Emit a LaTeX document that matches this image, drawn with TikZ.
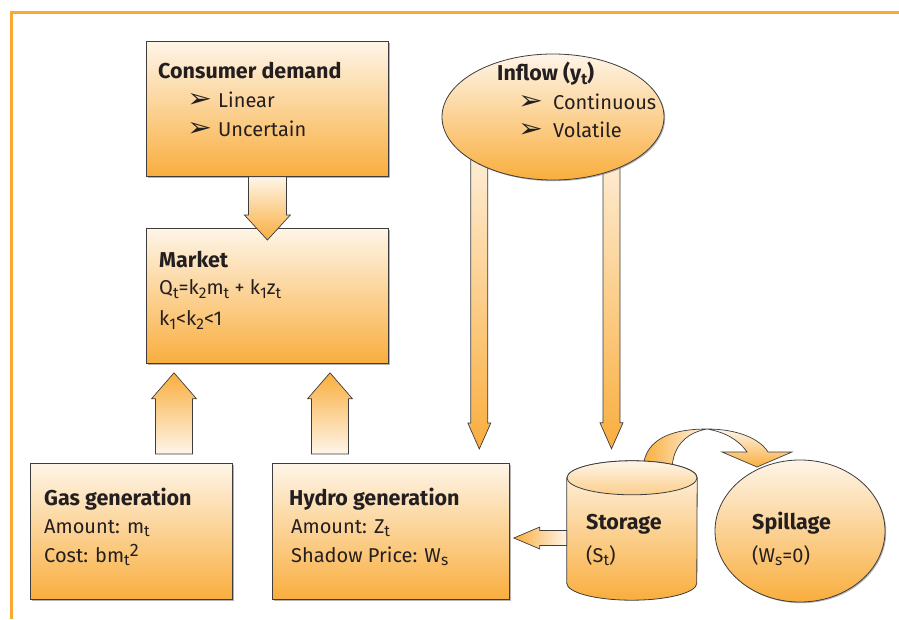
\documentclass[tikz,border=0pt]{standalone}
\usepackage{fontspec}
\setmainfont{Fira Sans}
\newfontfamily\symfont{DejaVu Sans}
\usetikzlibrary{calc,shadows,shapes.geometric,backgrounds,positioning}

\definecolor{lite}{RGB}{254,245,232}
\definecolor{deep}{RGB}{249,174,62}
\definecolor{rim}{RGB}{62,60,60}
\definecolor{framecol}{RGB}{249,168,50}
\definecolor{ink}{RGB}{35,31,32}

\newcommand{\bul}[1]{\makebox[#1][l]{\raisebox{0.5pt}{\resizebox{25pt}{14pt}{\symfont ➢}}}}
\newcommand{\sbs}[1]{\raisebox{-3.5pt}{\fontsize{15.5}{15.5}\selectfont #1}}
\newcommand{\sps}[1]{\raisebox{6pt}{\fontsize{18}{18}\selectfont #1}}
% fat block arrow: tail, tip, half shaft, half head, head length, shading
\newcommand{\fatarrow}[6]{%
  \coordinate (sh) at ($#2!#5!#1$);
  \draw[fat,#6] ($#1!#3!90:#2$) -- ($(sh)!#3!90:#2$) -- ($(sh)!#4!90:#2$) -- #2
    -- ($(sh)!#4!-90:#2$) -- ($(sh)!#3!-90:#2$) -- ($#1!#3!-90:#2$) -- cycle;
}

\begin{document}
\begin{tikzpicture}[x=1pt,y=1pt,
  box/.style={draw=rim, line width=.8pt, top color=lite, bottom color=deep, inner sep=0pt,
    drop shadow={shadow xshift=1.2pt, shadow yshift=-1.2pt, fill=black!50, opacity=.6}},
  fat/.style={draw=rim, line width=.7pt, line join=miter},
  fall/.style={top color=lite, bottom color=deep},
  rise/.style={top color=deep, bottom color=lite},
  leftward/.style={left color=deep, right color=lite},
  lbl/.style={anchor=base west, inner sep=0pt, text=ink, font=\fontsize{20}{24}\selectfont},
  hd/.style={lbl, font=\fontsize{21.5}{25}\selectfont\bfseries}]
\useasboundingbox (0,0) rectangle (899,619);
\draw[line width=3pt, framecol] (11,0) -- (11,606) -- (899,606);

% boxes
\node[box, anchor=north west, minimum width=242pt, minimum height=135pt] (cd) at (146,578) {};
\node[box, anchor=north west, minimum width=242pt, minimum height=135pt] (mk) at (146,391) {};
\node[box, anchor=north west, minimum width=202pt, minimum height=136pt] (gas) at (30,156) {};
\node[box, anchor=north west, minimum width=237pt, minimum height=136pt] (hyd) at (272,156) {};
\node[box, ellipse, minimum width=222pt, minimum height=126pt] (inflow) at (553,502) {};
\node[box, ellipse, minimum width=170pt, minimum height=142pt] (spill) at (800,88) {};
\node[minimum width=130pt, minimum height=105pt, inner sep=0pt] (stor) at (632,88.5) {};

% spill over
\draw[fat, left color=deep, right color=lite] (643,148) .. controls (643,178) and (668,190) .. (707,190)
  .. controls (690,187) and (672,176) .. (672,148) -- cycle;
\draw[fat, top color=lite, bottom color=deep] (707,190) .. controls (738,190) and (760,180) .. (768,167)
  -- (792,167) -- (757,152) -- (722,167) -- (747,167) .. controls (738,180) and (724,187) .. (707,190) -- cycle;

% storage tank
\draw[rim, line width=.8pt, top color=lite, bottom color=deep] (stor.north west) -- (stor.south west)
  arc[start angle=180, end angle=360, x radius=65pt, y radius=17pt] -- (stor.north east)
  arc[start angle=0, end angle=180, x radius=65pt, y radius=17pt] -- cycle;
\draw[rim, line width=.8pt, top color=lite, bottom color=deep!55!lite] (stor.north) ellipse[x radius=65pt, y radius=17pt];

% arrows
\coordinate (a1) at (cd.south);
\coordinate (a2) at ($(mk.north)+(0,-12)$);
\fatarrow{(a1)}{(a2)}{19pt}{23pt}{25pt}{fall}
\coordinate (b2) at ($(mk.south west)+(28,-9)$);
\coordinate (b1) at ($(gas.north -| b2)+(0,9)$);
\fatarrow{(b1)}{(b2)}{18.5pt}{22.5pt}{26pt}{rise}
\coordinate (c2) at ($(mk.south west)+(184,-9)$);
\coordinate (c1) at ($(hyd.north -| c2)+(0,9)$);
\fatarrow{(c1)}{(c2)}{18.5pt}{22.5pt}{26pt}{rise}
\begin{scope}[on background layer]
\coordinate (d2) at ($(hyd.north east)+(-30.5,14)$);
\coordinate (d1) at (d2 |- inflow.center);
\fatarrow{(d1)}{(d2)}{8.5pt}{11.5pt}{26pt}{fall}
\coordinate (e2) at ($(stor.north)+(-20.5,29)$);
\coordinate (e1) at (e2 |- inflow.center);
\fatarrow{(e1)}{(e2)}{8.5pt}{11.5pt}{26pt}{fall}
\end{scope}
\coordinate (f1) at ($(stor.west)+(0,-7.5)$);
\coordinate (f2) at ($(hyd.east |- f1)+(4,0)$);
\fatarrow{(f1)}{(f2)}{7.5pt}{11pt}{26pt}{leftward}

% texts
\node[hd] (cdT) at (158,540) {Consumer demand};
\node[lbl] (cd1) at (187,511) {\bul{31pt}Linear};
\node[lbl] (cd2) at (187,482) {\bul{31pt}Uncertain};
\node[hd] (mkT) at (159,351) {Market};
\node[lbl] (mk1) at (159,324) {Q\sbs{t}=k\sbs{2}m\sbs{t} + k\sbs{1}z\sbs{t}};
\node[lbl] (mk2) at (159,293) {k\sbs{1}<k\sbs{2}<1};
\node[hd] (inT) at (497,538) {Inflow (y\sbs{t})};
\node[lbl] (in1) at (518,509) {\bul{35pt}Continuous};
\node[lbl] (in2) at (518,481) {\bul{35pt}Volatile};
\node[hd] (gasT) at (44,114) {Gas generation};
\node[lbl] (gas1) at (44,86) {Amount: m\sbs{t}};
\node[lbl] (gas2) at (44,57) {Cost: bm\sbs{t}\sps{2}};
\node[hd] (hydT) at (289,114) {Hydro generation};
\node[lbl] (hyd1) at (291,86) {Amount: Z\sbs{t}};
\node[lbl] (hyd2) at (291,57) {Shadow Price: W\sbs{s}};
\node[hd] (storT) at (586,90) {Storage};
\node[lbl] (stor1) at (586,57) {(S\sbs{t})};
\node[hd] (spillT) at (752,90) {Spillage};
\node[lbl] (spill1) at (752,57) {(W\sbs{s}=0)};
\end{tikzpicture}
\end{document}
